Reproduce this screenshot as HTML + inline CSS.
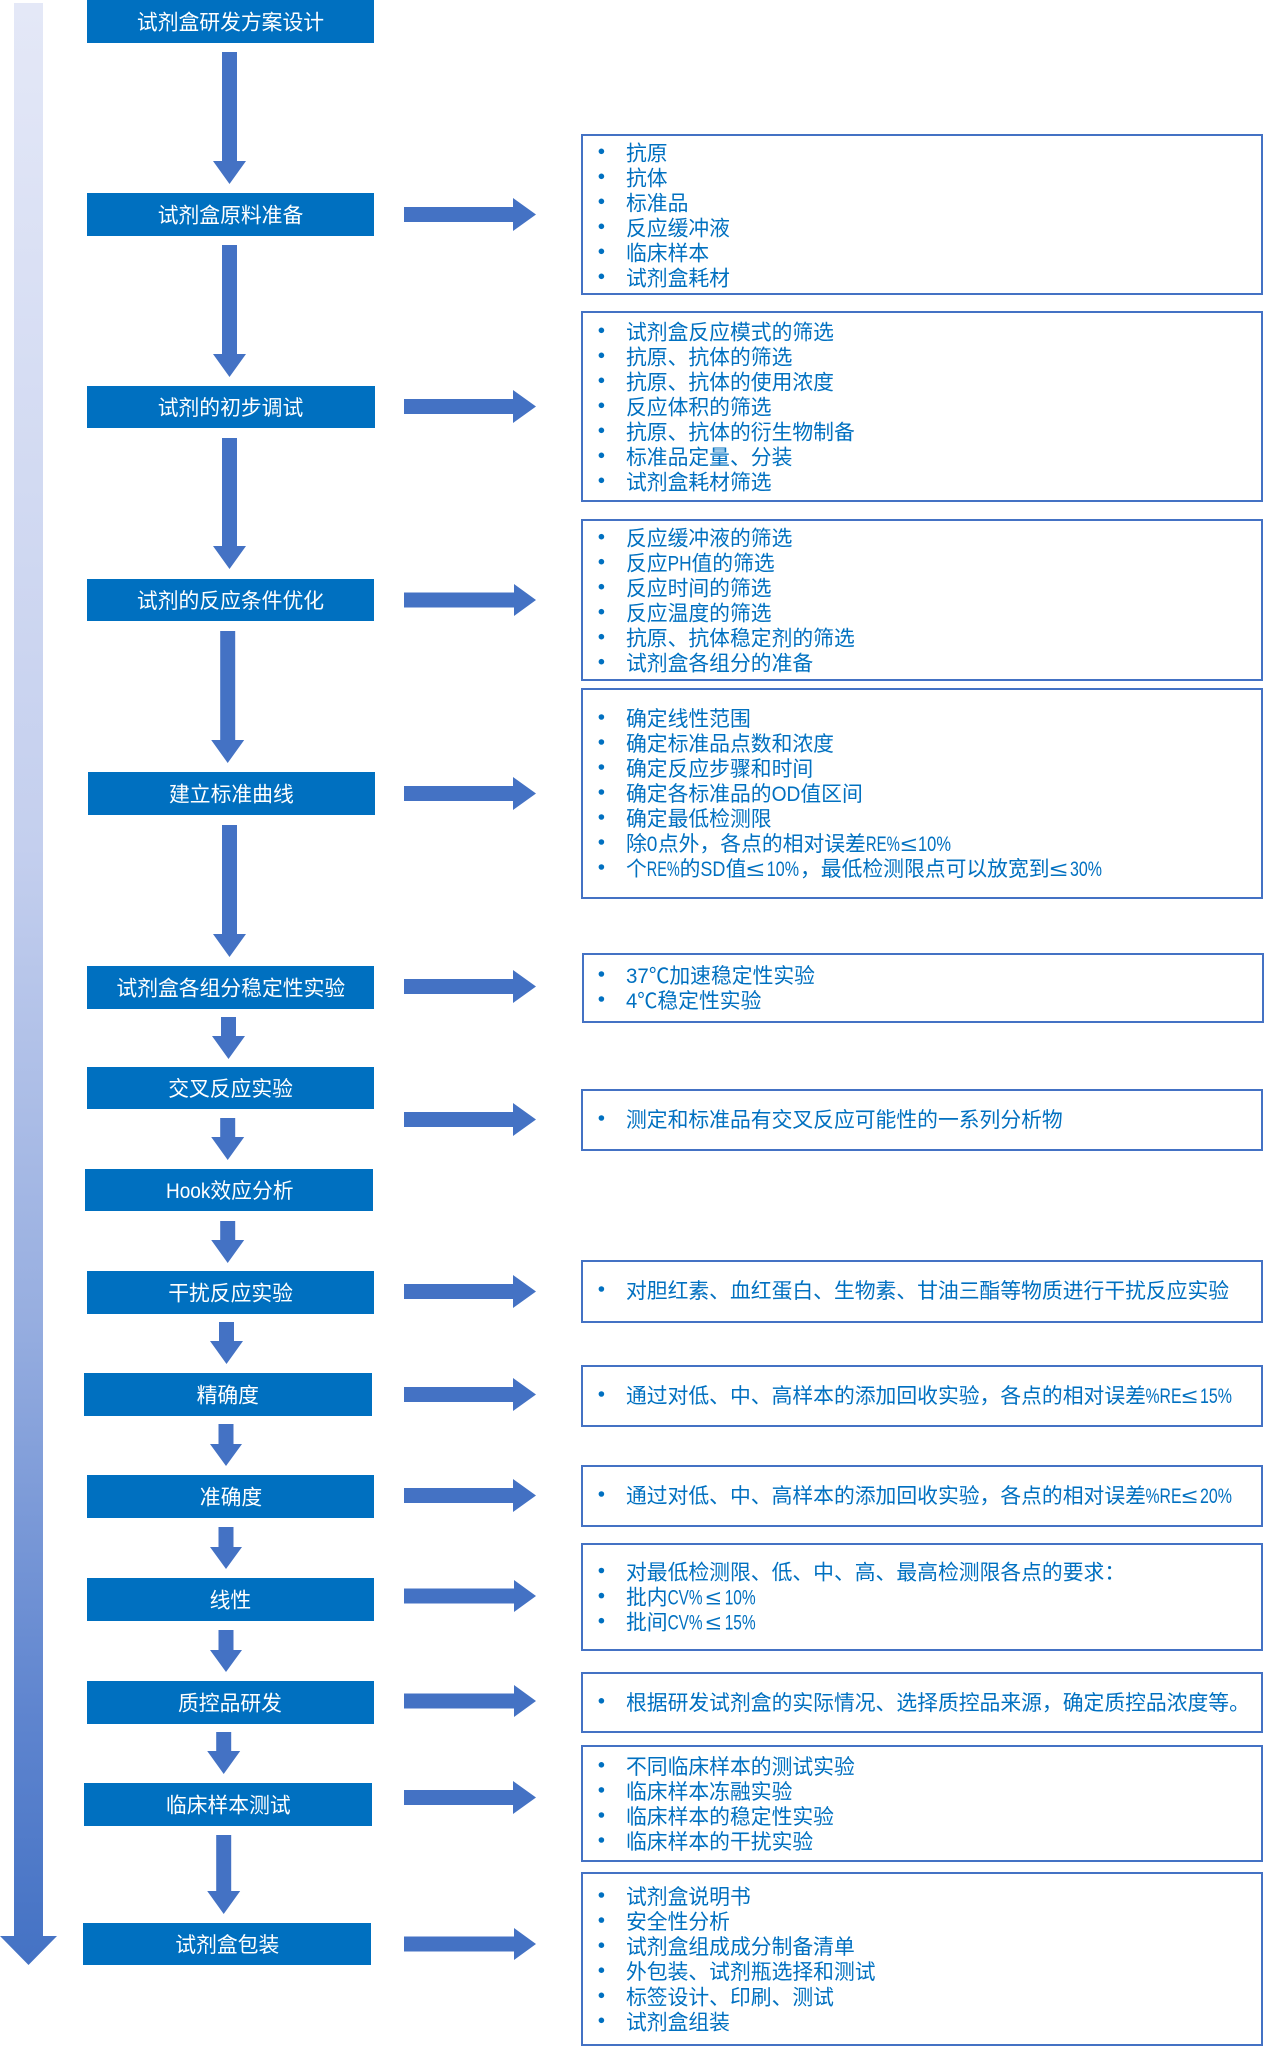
<!DOCTYPE html>
<html lang="zh">
<head>
<meta charset="utf-8">
<title>试剂盒研发方案设计</title>
<style>
html,body{margin:0;padding:0;background:#fff;width:1264px;height:2047px;overflow:hidden}
svg{display:block}
text{font-family:"Liberation Sans","Noto Sans CJK SC",sans-serif;font-size:20.8px}
.t{fill:#0070C0}
.w{fill:#fff;text-anchor:middle}
.hd{fill:#fff}
.b{fill:#0070C0}
.r{fill:#fff;stroke:#4472C4;stroke-width:2}
.a{fill:#4472C4}
</style>
</head>
<body>
<svg xmlns="http://www.w3.org/2000/svg" width="1264" height="2047" viewBox="0 0 1264 2047">
<defs>
<linearGradient id="g" gradientUnits="userSpaceOnUse" x1="0" y1="3" x2="0" y2="1965">
<stop offset="0" stop-color="#E4E8F7"/>
<stop offset="0.43" stop-color="#C4CFEE"/>
<stop offset="0.67" stop-color="#97AEE0"/>
<stop offset="0.87" stop-color="#5F85CF"/>
<stop offset="1" stop-color="#4472C4"/>
</linearGradient>
</defs>
<rect width="1264" height="2047" fill="#fff"/>
<path fill="url(#g)" d="M14 3H43V1936H57L28.5 1965L0 1936H14z"/>

<!-- left boxes -->
<rect class="b" x="87" y="0" width="287" height="43"/>
<rect class="b" x="87" y="193" width="287" height="43"/>
<rect class="b" x="87" y="386" width="288" height="42"/>
<rect class="b" x="87" y="579" width="287" height="42"/>
<rect class="b" x="88" y="772" width="287" height="43"/>
<rect class="b" x="87" y="966" width="287" height="43"/>
<rect class="b" x="87" y="1067" width="287" height="42"/>
<rect class="b" x="85" y="1169" width="288" height="42"/>
<rect class="b" x="87" y="1271" width="287" height="43"/>
<rect class="b" x="84" y="1373" width="288" height="43"/>
<rect class="b" x="87" y="1475" width="287" height="43"/>
<rect class="b" x="87" y="1578" width="287" height="43"/>
<rect class="b" x="87" y="1681" width="287" height="43"/>
<rect class="b" x="84" y="1783" width="288" height="43"/>
<rect class="b" x="83" y="1923" width="288" height="42"/>

<text class="w" x="230.5" y="29.5">试剂盒研发方案设计</text>
<text class="w" x="230.5" y="222.5">试剂盒原料准备</text>
<text class="w" x="230.5" y="415">试剂的初步调试</text>
<text class="w" x="230.5" y="608">试剂的反应条件优化</text>
<text class="w" x="231.4" y="801.5">建立标准曲线</text>
<text class="w" x="230.8" y="995.5">试剂盒各组分稳定性实验</text>
<text class="w" x="230.6" y="1096">交叉反应实验</text>
<text class="hd" y="1198"><tspan x="166" textLength="44.4" lengthAdjust="spacingAndGlyphs">Hook</tspan><tspan x="210.4">效应分析</tspan></text>
<text class="w" x="230.6" y="1300.5">干扰反应实验</text>
<text class="w" x="227.8" y="1402.5">精确度</text>
<text class="w" x="231" y="1504.5">准确度</text>
<text class="w" x="230.4" y="1607.5">线性</text>
<text class="w" x="230" y="1710.5">质控品研发</text>
<text class="w" x="228.3" y="1812.5">临床样本测试</text>
<text class="w" x="227.3" y="1952">试剂盒包装</text>

<!-- down arrows -->
<path class="a" d="M222 52h15V161h9L229.5 184L213 161h9z"/>
<path class="a" d="M222 245h15V354h9L229.5 377L213 354h9z"/>
<path class="a" d="M222 438h15V546h9L229.5 569L213 546h9z"/>
<path class="a" d="M220.2 631h15V740h9L227.7 763L211.2 740h9z"/>
<path class="a" d="M222 825h15V934h9L229.5 957L213 934h9z"/>
<path class="a" d="M221 1017h15V1036h9L228.5 1059L212 1036h9z"/>
<path class="a" d="M220.2 1118h15V1137h9L227.7 1160L211.2 1137h9z"/>
<path class="a" d="M220.2 1221h15V1240h9L227.7 1263L211.2 1240h9z"/>
<path class="a" d="M219 1322h15V1341h9L226.5 1364L210 1341h9z"/>
<path class="a" d="M218.5 1424h15V1444h8.500L226 1466L210 1444h8.500z"/>
<path class="a" d="M218.5 1527h15V1547h8.500L226 1569L210 1547h8.500z"/>
<path class="a" d="M218.5 1630h15V1650h8.500L226 1672L210 1650h8.500z"/>
<path class="a" d="M216.2 1732h15V1751h9L223.7 1774L207.2 1751h9z"/>
<path class="a" d="M216.2 1835h15V1891h9L223.7 1914L207.2 1891h9z"/>

<!-- right arrows -->
<path class="a" d="M404 207H513V198L536 214.5L513 231V222H404z"/>
<path class="a" d="M404 399H513V390L536 406.500L513 423V414H404z"/>
<path class="a" d="M404 592.500H514V584L536 600L514 616V607.500H404z"/>
<path class="a" d="M404 786H513V777L536 793.500L513 810V801H404z"/>
<path class="a" d="M404 979H513V970L536 986.500L513 1003V994H404z"/>
<path class="a" d="M404 1112H513V1103L536 1119.500L513 1136V1127H404z"/>
<path class="a" d="M404 1284H513V1275L536 1291.500L513 1308V1299H404z"/>
<path class="a" d="M404 1387H513V1378L536 1394.500L513 1411V1402H404z"/>
<path class="a" d="M404 1488H513V1479L536 1495.500L513 1512V1503H404z"/>
<path class="a" d="M404 1588.500H514V1580L536 1596L514 1612V1603.500H404z"/>
<path class="a" d="M404 1693.500H514V1685L536 1701L514 1717V1708.500H404z"/>
<path class="a" d="M404 1790H513V1781L536 1797.500L513 1814V1805H404z"/>
<path class="a" d="M404 1936.500H514V1928L536 1944L514 1960V1951.500H404z"/>

<!-- right boxes -->
<rect class="r" x="582" y="135" width="680" height="159"/>
<rect class="r" x="582" y="312" width="680" height="189"/>
<rect class="r" x="582" y="520" width="680" height="160"/>
<rect class="r" x="582" y="689" width="680" height="209"/>
<rect class="r" x="583" y="954" width="680" height="68"/>
<rect class="r" x="582" y="1090" width="680" height="60"/>
<rect class="r" x="582" y="1261" width="680" height="61"/>
<rect class="r" x="582" y="1366" width="680" height="60"/>
<rect class="r" x="582" y="1466" width="680" height="60"/>
<rect class="r" x="582" y="1544" width="680" height="106"/>
<rect class="r" x="582" y="1673" width="680" height="59"/>
<rect class="r" x="582" y="1746" width="680" height="115"/>
<rect class="r" x="582" y="1873" width="680" height="172"/>

<!-- bullets -->
<g class="b">
<circle cx="601.4" cy="151.3" r="2.8"/><circle cx="601.4" cy="176.3" r="2.8"/><circle cx="601.4" cy="201.3" r="2.8"/><circle cx="601.4" cy="226.3" r="2.8"/><circle cx="601.4" cy="251.3" r="2.8"/><circle cx="601.4" cy="276.3" r="2.8"/>
<circle cx="601.4" cy="330.3" r="2.8"/><circle cx="601.4" cy="355.3" r="2.8"/><circle cx="601.4" cy="380.3" r="2.8"/><circle cx="601.4" cy="405.3" r="2.8"/><circle cx="601.4" cy="430.3" r="2.8"/><circle cx="601.4" cy="455.3" r="2.8"/><circle cx="601.4" cy="480.3" r="2.8"/>
<circle cx="601.4" cy="536.7" r="2.8"/><circle cx="601.4" cy="561.7" r="2.8"/><circle cx="601.4" cy="586.7" r="2.8"/><circle cx="601.4" cy="611.7" r="2.8"/><circle cx="601.4" cy="636.7" r="2.8"/><circle cx="601.4" cy="661.7" r="2.8"/>
<circle cx="601.4" cy="717" r="2.8"/><circle cx="601.4" cy="742" r="2.8"/><circle cx="601.4" cy="767" r="2.8"/><circle cx="601.4" cy="792" r="2.8"/><circle cx="601.4" cy="817" r="2.8"/><circle cx="601.4" cy="842" r="2.8"/><circle cx="601.4" cy="867" r="2.8"/>
<circle cx="601.4" cy="974" r="2.8"/><circle cx="601.4" cy="999" r="2.8"/>
<circle cx="601.4" cy="1118" r="2.8"/>
<circle cx="601.4" cy="1289" r="2.8"/>
<circle cx="601.4" cy="1394" r="2.8"/>
<circle cx="601.4" cy="1494" r="2.8"/>
<circle cx="601.4" cy="1570.5" r="2.8"/><circle cx="601.4" cy="1595.6" r="2.8"/><circle cx="601.4" cy="1620.7" r="2.8"/>
<circle cx="601.4" cy="1700.8" r="2.8"/>
<circle cx="601.4" cy="1764.8" r="2.8"/><circle cx="601.4" cy="1789.9" r="2.8"/><circle cx="601.4" cy="1815" r="2.8"/><circle cx="601.4" cy="1840" r="2.8"/>
<circle cx="601.4" cy="1895" r="2.8"/><circle cx="601.4" cy="1920.1" r="2.8"/><circle cx="601.4" cy="1945.2" r="2.8"/><circle cx="601.4" cy="1970.2" r="2.8"/><circle cx="601.4" cy="1995.3" r="2.8"/><circle cx="601.4" cy="2020.3" r="2.8"/>
</g>

<!-- right text -->
<text class="t" x="626" y="160.3">抗原</text>
<text class="t" x="626" y="185.3">抗体</text>
<text class="t" x="626" y="210.3">标准品</text>
<text class="t" x="626" y="235.3">反应缓冲液</text>
<text class="t" x="626" y="260.3">临床样本</text>
<text class="t" x="626" y="285.3">试剂盒耗材</text>

<text class="t" x="626" y="339.3">试剂盒反应模式的筛选</text>
<text class="t" x="626" y="364.3">抗原、抗体的筛选</text>
<text class="t" x="626" y="389.3">抗原、抗体的使用浓度</text>
<text class="t" x="626" y="414.3">反应体积的筛选</text>
<text class="t" x="626" y="439.3">抗原、抗体的衍生物制备</text>
<text class="t" x="626" y="464.3">标准品定量、分装</text>
<text class="t" x="626" y="489.3">试剂盒耗材筛选</text>

<text class="t" x="626" y="545.7">反应缓冲液的筛选</text>
<text class="t" y="570.7"><tspan x="626">反应</tspan><tspan x="667.6" textLength="24" lengthAdjust="spacingAndGlyphs">PH</tspan><tspan x="691.5">值的筛选</tspan></text>
<text class="t" x="626" y="595.7">反应时间的筛选</text>
<text class="t" x="626" y="620.7">反应温度的筛选</text>
<text class="t" x="626" y="645.7">抗原、抗体稳定剂的筛选</text>
<text class="t" x="626" y="670.7">试剂盒各组分的准备</text>

<text class="t" x="626" y="726">确定线性范围</text>
<text class="t" x="626" y="751">确定标准品点数和浓度</text>
<text class="t" x="626" y="776">确定反应步骤和时间</text>
<text class="t" y="801"><tspan x="626">确定各标准品的</tspan><tspan x="771.6" textLength="28.8" lengthAdjust="spacingAndGlyphs">OD</tspan><tspan x="800.4">值区间</tspan></text>
<text class="t" x="626" y="826">确定最低检测限</text>
<text class="t" y="851"><tspan x="626">除</tspan><tspan x="646.8" textLength="10.6" lengthAdjust="spacingAndGlyphs">0</tspan><tspan x="657.9">点外，各点的相对误差</tspan><tspan x="865.9" textLength="34" lengthAdjust="spacingAndGlyphs">RE%</tspan><tspan x="901" textLength="16" lengthAdjust="spacingAndGlyphs">≤</tspan><tspan x="918" textLength="33" lengthAdjust="spacingAndGlyphs">10%</tspan></text>
<text class="t" y="876"><tspan x="626">个</tspan><tspan x="646.8" textLength="33" lengthAdjust="spacingAndGlyphs">RE%</tspan><tspan x="679.6">的</tspan><tspan x="700.4" textLength="25" lengthAdjust="spacingAndGlyphs">SD</tspan><tspan x="725.6">值</tspan><tspan x="746.8" textLength="17.5" lengthAdjust="spacingAndGlyphs">≤</tspan><tspan x="766.8" textLength="32.2" lengthAdjust="spacingAndGlyphs">10%</tspan><tspan x="800">，最低检测限点可以放宽到</tspan><tspan x="1050" textLength="17.5" lengthAdjust="spacingAndGlyphs">≤</tspan><tspan x="1070" textLength="32" lengthAdjust="spacingAndGlyphs">30%</tspan></text>

<text class="t" y="983"><tspan x="626" textLength="43.4" lengthAdjust="spacingAndGlyphs">37℃</tspan><tspan x="669.4">加速稳定性实验</tspan></text>
<text class="t" y="1008"><tspan x="626" textLength="31.4" lengthAdjust="spacingAndGlyphs">4℃</tspan><tspan x="657.4">稳定性实验</tspan></text>

<text class="t" x="626" y="1127">测定和标准品有交叉反应可能性的一系列分析物</text>
<text class="t" x="626" y="1298">对胆红素、血红蛋白、生物素、甘油三酯等物质进行干扰反应实验</text>
<text class="t" y="1403"><tspan x="626">通过对低、中、高样本的添加回收实验，各点的相对误差</tspan><tspan x="1145.5" textLength="36" lengthAdjust="spacingAndGlyphs">%RE</tspan><tspan x="1182" textLength="15.5" lengthAdjust="spacingAndGlyphs">≤</tspan><tspan x="1200" textLength="32" lengthAdjust="spacingAndGlyphs">15%</tspan></text>
<text class="t" y="1503"><tspan x="626">通过对低、中、高样本的添加回收实验，各点的相对误差</tspan><tspan x="1145.5" textLength="36" lengthAdjust="spacingAndGlyphs">%RE</tspan><tspan x="1182" textLength="15.5" lengthAdjust="spacingAndGlyphs">≤</tspan><tspan x="1200" textLength="32" lengthAdjust="spacingAndGlyphs">20%</tspan></text>

<text class="t" x="626" y="1579.5">对最低检测限、低、中、高、最高检测限各点的要求：</text>
<text class="t" y="1604.6"><tspan x="626">批内</tspan><tspan x="667.6" textLength="35" lengthAdjust="spacingAndGlyphs">CV%</tspan><tspan x="706" textLength="15" lengthAdjust="spacingAndGlyphs">≤</tspan><tspan x="724.7" textLength="31" lengthAdjust="spacingAndGlyphs">10%</tspan></text>
<text class="t" y="1629.7"><tspan x="626">批间</tspan><tspan x="667.6" textLength="35" lengthAdjust="spacingAndGlyphs">CV%</tspan><tspan x="706" textLength="15" lengthAdjust="spacingAndGlyphs">≤</tspan><tspan x="724.7" textLength="31" lengthAdjust="spacingAndGlyphs">15%</tspan></text>

<text class="t" x="626" y="1709.8">根据研发试剂盒的实际情况、选择质控品来源，确定质控品浓度等。</text>

<text class="t" x="626" y="1773.8">不同临床样本的测试实验</text>
<text class="t" x="626" y="1798.9">临床样本冻融实验</text>
<text class="t" x="626" y="1824">临床样本的稳定性实验</text>
<text class="t" x="626" y="1849">临床样本的干扰实验</text>

<text class="t" x="626" y="1904">试剂盒说明书</text>
<text class="t" x="626" y="1929.1">安全性分析</text>
<text class="t" x="626" y="1954.2">试剂盒组成成分制备清单</text>
<text class="t" x="626" y="1979.2">外包装、试剂瓶选择和测试</text>
<text class="t" x="626" y="2004.3">标签设计、印刷、测试</text>
<text class="t" x="626" y="2029.3">试剂盒组装</text>
</svg>
</body>
</html>
